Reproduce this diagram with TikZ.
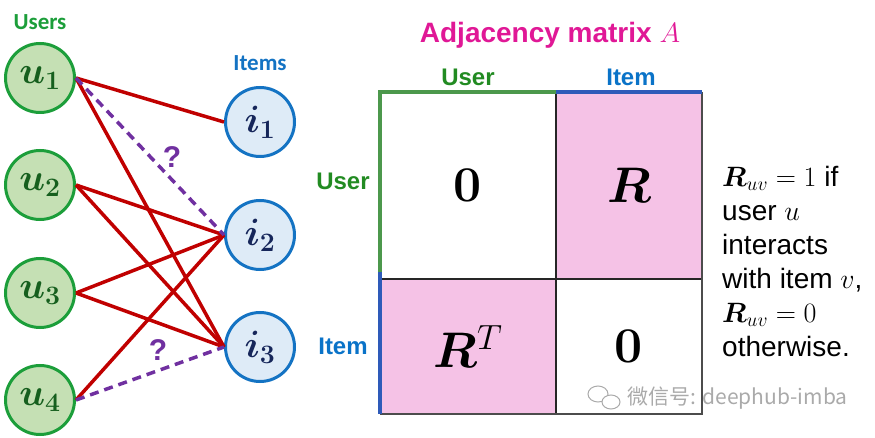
\RequirePackage{fix-cm}
\documentclass[tikz,border=0pt]{standalone}
\usepackage[no-math]{fontspec}
\usepackage{bm}
\setmainfont{Liberation Sans}
\newfontfamily\calib{Carlito}
\newfontfamily\cjk{Noto Sans CJK SC}
\definecolor{ugreen}{RGB}{28,158,58}
\definecolor{ugreenfill}{RGB}{197,224,180}
\definecolor{udark}{RGB}{22,95,30}
\definecolor{iblue}{RGB}{20,115,195}
\definecolor{ibluefill}{RGB}{222,235,247}
\definecolor{idark}{RGB}{22,38,90}
\definecolor{ered}{RGB}{192,0,0}
\definecolor{qpurple}{RGB}{112,48,160}
\definecolor{mgreen}{RGB}{76,152,76}
\definecolor{mblue}{RGB}{46,90,185}
\definecolor{lgreen}{RGB}{34,139,34}
\definecolor{lblue}{RGB}{10,115,200}
\definecolor{pinkc}{RGB}{245,194,230}
\definecolor{titlec}{RGB}{224,24,150}
\definecolor{markc}{RGB}{170,170,170}
\tikzset{
  user/.style={circle,draw=ugreen,fill=ugreenfill,line width=3pt,minimum size=69pt,
    inner sep=0pt,text=udark,font=\fontsize{38}{38}\selectfont},
  item/.style={circle,draw=iblue,fill=ibluefill,line width=3pt,minimum size=69pt,
    inner sep=0pt,text=idark,font=\fontsize{38}{38}\selectfont},
  link/.style={draw=ered,line width=3.5pt},
  unknown/.style={draw=qpurple,line width=3.5pt,dash pattern=on 9pt off 6pt},
  qmark/.style={text=qpurple,font=\fontsize{30}{30}\selectfont\bfseries},
  cell/.style={inner sep=0pt,font=\fontsize{50}{50}\selectfont},
  head/.style={font=\fontsize{24}{24}\selectfont\bfseries},
}
\begin{document}
\begin{tikzpicture}[x=1pt,y=-1pt]
  \useasboundingbox (0,0) rectangle (875,438);
  % users and items
  \node[text=ugreen,font=\calib\fontsize{23}{23}\selectfont\bfseries] (users) at (40,22) {Users};
  \node[text=iblue,font=\calib\fontsize{23}{23}\selectfont\bfseries] (items) at (260,63) {Items};
  \foreach \k/\y in {1/78,2/185,3/293,4/400}
    \node[user] (u\k) at (40,\y) {$\bm{u_{\k}}$};
  \foreach \k/\y in {1/122,2/235,3/347}
    \node[item] (i\k) at (260,\y) {$\bm{i_{\k}}$};
  % known interactions
  \foreach \a/\b in {1/1,1/3,2/2,2/3,3/2,3/3,4/2}
    \draw[link] (u\a.east) -- (i\b.west);
  % unknown ones
  \draw[unknown] (u1.east) -- (i2.west);
  \draw[unknown] (u4.east) -- (i3.west);
  \node[qmark] (q1) at (172,157) {?};
  \node[qmark] (q2) at (158,350) {?};
  % matrix A
  \node[text=titlec,font=\fontsize{28}{28}\selectfont\bfseries] (title) at (550,35) {Adjacency matrix $A$};
  \node[cell,minimum width=176pt,minimum height=187pt] (c11) at (468,185.5) {$\mathbf{0}$};
  \node[cell,fill=pinkc,minimum width=146pt,minimum height=187pt] (c12) at (629,185.5) {$\bm{R}$};
  \node[cell,fill=pinkc,minimum width=176pt,minimum height=135pt] (c21) at (468,346.5) {$\bm{R}^{T}$};
  \node[cell,minimum width=146pt,minimum height=135pt] (c22) at (629,346.5) {$\mathbf{0}$};
  \draw[line width=1.5pt,black!85] (c11.north east) -- (c21.south east);
  \draw[line width=1.5pt,black!85] (c11.south west) -- (c12.south east);
  \draw[line width=2.5pt,black!70] (c12.north east) -- (c22.south east) -- (c21.south west);
  \draw[mgreen,line width=4pt] ([yshift=7pt]c21.north west) -- (c11.north west) -- (c11.north east);
  \draw[mblue,line width=4pt] (c12.north west) -- (c12.north east);
  \draw[mblue,line width=4pt] ([yshift=7pt]c21.north west) -- (c21.south west);
  \node[head,text=lgreen] (colu) at (468,77) {User};
  \node[head,text=lblue] (coli) at (631,77) {Item};
  \node[head,text=lgreen] (rowu) at (343,181) {User};
  \node[head,text=lblue] (rowi) at (343,346) {Item};
  % meaning of R
  \node[anchor=west,align=left,inner sep=0pt,font=\fontsize{28}{34}\selectfont] (rule) at (722,261)
    {$\bm{R}_{uv}=1$ if\\ user $u$\\ interacts\\ with item $v$,\\ $\bm{R}_{uv}=0$\\ otherwise.};
  % watermark
  \draw[markc,line width=1pt] (598,394) ellipse (10pt and 8pt);
  \draw[markc,line width=1pt,fill=white] (611,402) ellipse (9pt and 7pt);
  \node[anchor=west,text=markc,font=\cjk\fontsize{21}{21}\selectfont] (mark) at (624,398) {微信号: deephub-imba};
\end{tikzpicture}
\end{document}
